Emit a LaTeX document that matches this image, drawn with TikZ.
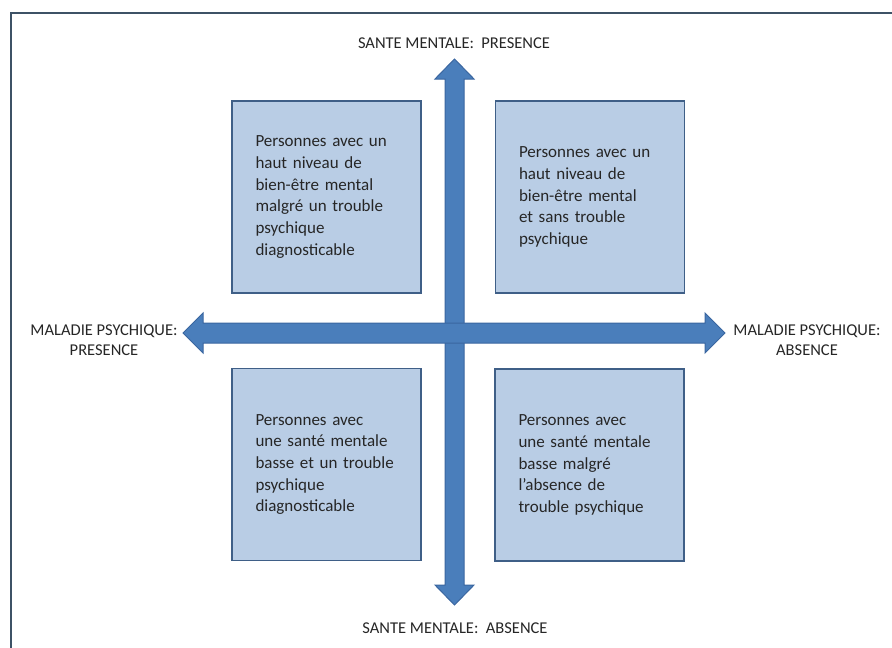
\documentclass[tikz,border=0pt]{standalone}
\usepackage{fontspec}
\setmainfont{Carlito}
\usepackage{xcolor}
\usepackage{tikz}

\definecolor{boxfill}{HTML}{B9CDE5}
\definecolor{boxline}{HTML}{3F5F87}
\definecolor{arrowfill}{HTML}{4A7EBB}
\definecolor{arrowline}{HTML}{3A66A0}
\definecolor{frameline}{HTML}{3D5266}
\definecolor{labeltext}{HTML}{262626}

\tikzset{
  quadrant/.style={draw=boxline, line width=1.5pt, fill=boxfill,
    minimum width=189pt, minimum height=192pt, text width=142pt,
    align=left, inner sep=0pt, text=labeltext,
    font=\fontsize{17}{21.7}\selectfont},
  axislabel/.style={align=center, inner sep=0pt, text=labeltext,
    font=\fontsize{16.5}{19.5}\selectfont},
  axisarrow/.style={fill=arrowfill, draw=arrowline, line width=1pt}
}

\begin{document}
\begin{tikzpicture}[x=1pt, y=-1pt]
    \useasboundingbox (0,0) rectangle (892,648);
    \draw[frameline, line width=2pt] (11,648) -- (11,13) -- (892,13);

    % axes
    \draw[axisarrow] (445,79) -- (435,79) -- (454.5,59) -- (474,79) -- (464,79)
        -- (464,585) -- (474,585) -- (454.5,605) -- (435,585) -- (445,585) -- cycle;
    \draw[axisarrow] (203,323) -- (203,313) -- (183,333) -- (203,353) -- (203,343)
        -- (705,343) -- (705,353) -- (725,333) -- (705,313) -- (705,323) -- cycle;

    \node[axislabel] (santeP) at (454,43) {SANTE MENTALE:\ \ PRESENCE};
    \node[axislabel] (santeA) at (455,628) {SANTE MENTALE:\ \ ABSENCE};
    \node[axislabel] (maladieP) at (104,340) {MALADIE PSYCHIQUE:\\PRESENCE};
    \node[axislabel] (maladieA) at (807,340) {MALADIE PSYCHIQUE:\\ABSENCE};

    % quadrants
    \node[quadrant] (hautTrouble) at (326.5,197)
        {Personnes avec un\\haut niveau de\\bien-être mental\\malgré un trouble\\psychique\\diagnosticable};
    \node[quadrant] (hautSans) at (590,197)
        {Personnes avec un\\haut niveau de\\bien-être mental\\et sans trouble\\psychique};
    \node[quadrant] (basseTrouble) at (326.5,464.5)
        {Personnes avec\\une santé mentale\\basse et un trouble\\psychique\\diagnosticable};
    \node[quadrant] (basseSans) at (589.5,465)
        {Personnes avec\\une santé mentale\\basse malgré\\l'absence de\\trouble psychique};
  \end{tikzpicture}
\end{document}
